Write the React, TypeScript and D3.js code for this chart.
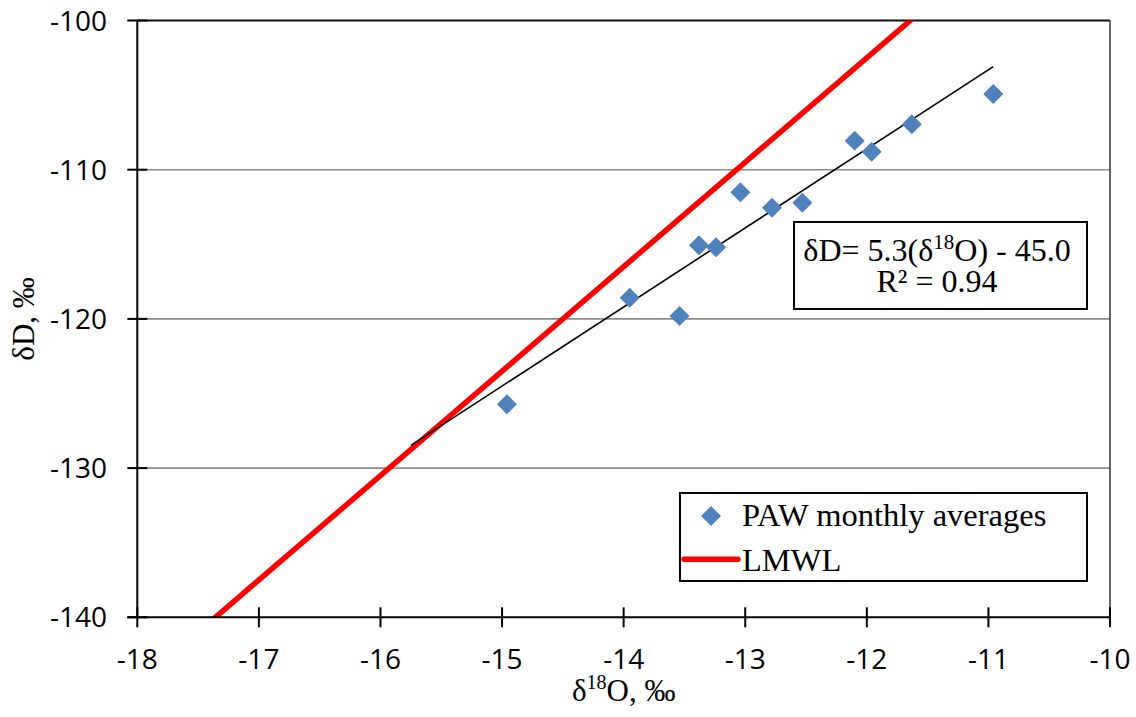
import React from "react";
import * as d3 from "d3";

// Monthly averages of precipitation isotopes (δ18O, δD in ‰)
const d18O = [-14.96, -13.95, -13.54, -13.38, -13.24, -13.04, -12.78, -12.53, -12.1, -11.96, -11.63, -10.96];
const dD = [-125.72, -118.58, -119.81, -115.07, -115.2, -111.51, -112.55, -112.21, -108.06, -108.79, -106.96, -104.93];

// Axis ticks
const xTicks = [-18, -17, -16, -15, -14, -13, -12, -11, -10];
const yTicks = [-140, -130, -120, -110, -100];

// Regression of the monthly averages (as labelled) and its drawn span
const trendSlope = 5.3;
const trendIntercept = -45.0;
const trendRange = [-15.75, -10.96];

// Local meteoric water line
const lmwlSlope = 7.0;
const lmwlIntercept = -18.5;

const W = 1136;
const H = 717;
const plot = { left: 137.3, right: 1110, top: 20.5, bottom: 617.3 };

const serif = "'Liberation Serif', 'Times New Roman', serif";
const sans = "'Open Sans', 'Liberation Sans', sans-serif";

function diamond(cx: number, cy: number, r: number) {
  return `M${cx},${cy - r}L${cx + r},${cy}L${cx},${cy + r}L${cx - r},${cy}Z`;
}

export default function App() {
  const x = d3.scaleLinear().domain([-18, -10]).range([plot.left, plot.right]);
  const y = d3.scaleLinear().domain([-140, -100]).range([plot.bottom, plot.top]);

  const line = d3
    .line<[number, number]>()
    .x((d) => x(d[0]))
    .y((d) => y(d[1]));

  const lmwlPts: [number, number][] = [-18, -10].map((v) => [v, lmwlSlope * v + lmwlIntercept]);
  const trendPts: [number, number][] = trendRange.map((v) => [v, trendSlope * v + trendIntercept]);

  const blue = "#4F81BD";

  return (
    <svg
      width={W}
      height={H}
      style={{ position: "fixed", left: 0, top: 0, background: "#fff" }}
    >
      <defs>
        <clipPath id="plotClip">
          <rect
            x={plot.left}
            y={plot.top}
            width={plot.right - plot.left}
            height={plot.bottom - plot.top}
          />
        </clipPath>
      </defs>

      {/* horizontal gridlines */}
      {yTicks
        .filter((t) => t !== -140 && t !== -100)
        .map((t) => (
          <line
            key={`g${t}`}
            x1={plot.left}
            x2={plot.right}
            y1={y(t)}
            y2={y(t)}
            stroke="#8c8c8c"
            strokeWidth={1.6}
          />
        ))}

      {/* plot frame: top and right */}
      <line x1={plot.left} x2={plot.right} y1={plot.top} y2={plot.top} stroke="#111" strokeWidth={2} />
      <line x1={plot.right} x2={plot.right} y1={plot.top} y2={plot.bottom} stroke="#333" strokeWidth={1.5} />

      {/* LMWL */}
      <path
        d={line(lmwlPts) || ""}
        stroke="#ff0000"
        strokeWidth={5.5}
        fill="none"
        clipPath="url(#plotClip)"
      />

      {/* regression line */}
      <path d={line(trendPts) || ""} stroke="#000" strokeWidth={1.6} fill="none" />

      {/* data points */}
      {d18O.map((v, i) => (
        <path key={`p${i}`} d={diamond(x(v), y(dD[i]), 10)} fill={blue} />
      ))}

      {/* axes */}
      <line x1={plot.left} x2={plot.left} y1={plot.top} y2={plot.bottom} stroke="#000" strokeWidth={2} />
      <line x1={plot.left - 10} x2={plot.right} y1={plot.bottom} y2={plot.bottom} stroke="#000" strokeWidth={2} />

      {yTicks.map((t) => (
        <g key={`yt${t}`}>
          <line x1={plot.left - 10} x2={plot.left + 10} y1={y(t)} y2={y(t)} stroke="#000" strokeWidth={2} />
          <text
            x={107}
            y={y(t) + 10}
            textAnchor="end"
            fontFamily={sans}
            fontSize={28}
            fill="#000"
          >
            {t}
          </text>
        </g>
      ))}

      {xTicks.map((t) => (
        <g key={`xt${t}`}>
          <line x1={x(t)} x2={x(t)} y1={plot.bottom - 10} y2={plot.bottom + 10} stroke="#000" strokeWidth={2} />
          <text
            x={x(t)}
            y={669}
            textAnchor="middle"
            fontFamily={sans}
            fontSize={28}
            fill="#000"
          >
            {t}
          </text>
        </g>
      ))}

      {/* axis titles */}
      <text x={x(-14)} y={701} textAnchor="middle" fontFamily={serif} fontSize={31} fill="#000">
        δ<tspan fontSize={20} dy={-12}>18</tspan>
        <tspan dy={12}>O, ‰</tspan>
      </text>
      <text
        transform={`translate(34, ${y(-120)}) rotate(-90)`}
        textAnchor="middle"
        fontFamily={serif}
        fontSize={31}
        fill="#000"
      >
        δD, ‰
      </text>

      {/* regression equation */}
      <rect x={794} y={222} width={293} height={87} fill="#fff" stroke="#000" strokeWidth={2} />
      <text x={937} y={261} textAnchor="middle" fontFamily={serif} fontSize={32} fill="#000">
        δD= 5.3(δ<tspan fontSize={21} dy={-12}>18</tspan>
        <tspan dy={12}>O) - 45.0</tspan>
      </text>
      <text x={937} y={292} textAnchor="middle" fontFamily={serif} fontSize={32} fill="#000">
        R² = 0.94
      </text>

      {/* legend */}
      <rect x={680} y={493} width={407} height={88} fill="#fff" stroke="#000" strokeWidth={2} />
      <path d={diamond(711, 516, 10)} fill={blue} />
      <text x={742} y={526} fontFamily={serif} fontSize={32.5} fill="#000">
        PAW monthly averages
      </text>
      <line x1={684} x2={738} y1={559.3} y2={559.3} stroke="#ff0000" strokeWidth={5.5} strokeLinecap="round" />
      <text x={742} y={571} fontFamily={serif} fontSize={32.5} fill="#000">
        LMWL
      </text>
    </svg>
  );
}
